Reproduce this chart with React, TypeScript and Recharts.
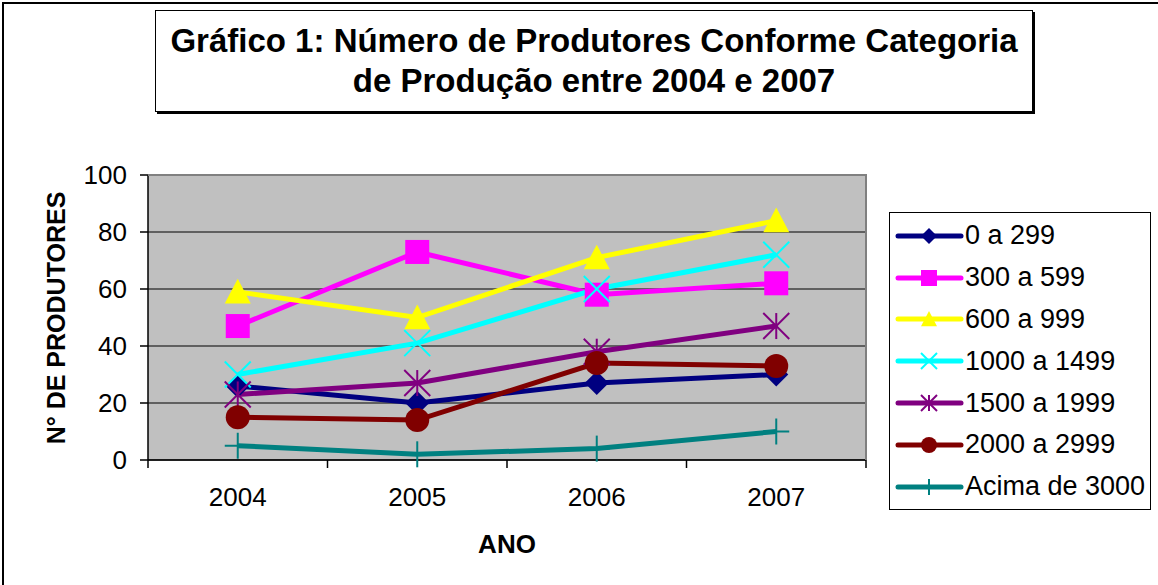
import React from "react";
import {
  CartesianGrid,
  Line,
  LineChart,
  XAxis,
  YAxis,
} from "recharts";

const years = ["2004", "2005", "2006", "2007"];
const cat0a299 = [26, 20, 27, 30];
const cat300a599 = [47, 73, 58, 62];
const cat600a999 = [59, 50, 71, 84];
const cat1000a1499 = [30, 41, 60, 72];
const cat1500a1999 = [23, 27, 38, 47];
const cat2000a2999 = [15, 14, 34, 33];
const catAcima3000 = [5, 2, 4, 10];
const yTicks = [0, 20, 40, 60, 80, 100];

const FONT = "'Liberation Sans', Arial, sans-serif";

type Shape = "diamond" | "square" | "triangle" | "x" | "star" | "circle" | "plus";

const series: { key: string; name: string; values: number[]; color: string; shape: Shape }[] = [
  { key: "s0", name: "0 a 299", values: cat0a299, color: "#000080", shape: "diamond" },
  { key: "s1", name: "300 a 599", values: cat300a599, color: "#FF00FF", shape: "square" },
  { key: "s2", name: "600 a 999", values: cat600a999, color: "#FFFF00", shape: "triangle" },
  { key: "s3", name: "1000 a 1499", values: cat1000a1499, color: "#00FFFF", shape: "x" },
  { key: "s4", name: "1500 a 1999", values: cat1500a1999, color: "#800080", shape: "star" },
  { key: "s5", name: "2000 a 2999", values: cat2000a2999, color: "#800000", shape: "circle" },
  { key: "s6", name: "Acima de 3000", values: catAcima3000, color: "#008080", shape: "plus" },
];

const chartData = years.map((year, i) => {
  const row: Record<string, string | number> = { year };
  series.forEach((s) => {
    row[s.key] = s.values[i];
  });
  return row;
});

// marker drawn around (cx, cy), r is half size
function Marker({ shape, cx, cy, r, color }: { shape: Shape; cx: number; cy: number; r: number; color: string }) {
  switch (shape) {
    case "diamond":
      return (
        <polygon
          points={`${cx},${cy - r} ${cx + r},${cy} ${cx},${cy + r} ${cx - r},${cy}`}
          fill={color}
        />
      );
    case "square":
      return <rect x={cx - r} y={cy - r} width={r * 2} height={r * 2} fill={color} />;
    case "triangle":
      return (
        <polygon
          points={`${cx},${cy - r} ${cx + r},${cy + r * 0.9} ${cx - r},${cy + r * 0.9}`}
          fill={color}
        />
      );
    case "x":
      return (
        <g stroke={color} strokeWidth={2}>
          <line x1={cx - r} y1={cy - r} x2={cx + r} y2={cy + r} />
          <line x1={cx - r} y1={cy + r} x2={cx + r} y2={cy - r} />
        </g>
      );
    case "star":
      return (
        <g stroke={color} strokeWidth={2}>
          <line x1={cx - r} y1={cy - r} x2={cx + r} y2={cy + r} />
          <line x1={cx - r} y1={cy + r} x2={cx + r} y2={cy - r} />
          <line x1={cx} y1={cy - r} x2={cx} y2={cy + r} />
        </g>
      );
    case "circle":
      return <circle cx={cx} cy={cy} r={r} fill={color} />;
    case "plus":
      return (
        <g stroke={color} strokeWidth={2}>
          <line x1={cx} y1={cy - r} x2={cx} y2={cy + r} />
          <line x1={cx - r} y1={cy} x2={cx + r} y2={cy} />
        </g>
      );
  }
  return null;
}

const dotSize: Record<Shape, number> = {
  diamond: 12,
  square: 12,
  triangle: 13,
  x: 13,
  star: 13,
  circle: 12,
  plus: 13,
};

function makeDot(shape: Shape, color: string) {
  return (props: any) => (
    <Marker key={`${shape}-${props.index}`} shape={shape} cx={props.cx} cy={props.cy} r={dotSize[shape]} color={color} />
  );
}

// x tick label with Excel style tick marks between the categories
function YearTick(props: any) {
  const { x, y, payload, index, visibleTicksCount } = props;
  const half = payload?.offset || 89.75;
  const last = index === (visibleTicksCount ?? years.length) - 1;
  return (
    <g>
      <line x1={x - half} y1={y - 8} x2={x - half} y2={y} stroke="#000" strokeWidth={1.5} />
      {last && <line x1={x + half} y1={y - 8} x2={x + half} y2={y} stroke="#000" strokeWidth={1.5} />}
      <text x={x} y={y + 38} textAnchor="middle" fontSize={26} fontFamily={FONT} fill="#000">
        {payload.value}
      </text>
    </g>
  );
}

function LegendBox() {
  return (
    <div
      style={{
        position: "absolute",
        left: 889,
        top: 212,
        width: 262,
        height: 298,
        border: "1.5px solid #000",
        background: "#fff",
        boxSizing: "border-box",
        paddingTop: 2,
      }}
    >
      {series.map((s) => (
        <div key={s.key} style={{ display: "flex", alignItems: "center", height: 41.8 }}>
          <svg width={72} height={30} style={{ marginLeft: 4 }}>
            <line x1={4} y1={15} x2={67} y2={15} stroke={s.color} strokeWidth={5} strokeLinecap="round" />
            <Marker shape={s.shape} cx={35} cy={15} r={8} color={s.color} />
          </svg>
          <span style={{ fontFamily: FONT, fontSize: 27, color: "#000", marginLeft: -1 }}>{s.name}</span>
        </div>
      ))}
    </div>
  );
}

export default function App() {
  return (
    <div
      style={{
        position: "absolute",
        left: 0,
        top: 0,
        width: 1158,
        height: 585,
        overflow: "hidden",
        background: "#fff",
        fontFamily: FONT,
      }}
    >
      <div
        style={{
          position: "absolute",
          left: 2,
          top: 2,
          width: 1200,
          height: 700,
          borderLeft: "2px solid #000",
          borderTop: "2px solid #000",
        }}
      />
      <div
        style={{
          position: "absolute",
          left: 155,
          top: 10,
          width: 878,
          height: 102,
          border: "1px solid #000",
          boxShadow: "2px 2px 0 #000",
          boxSizing: "border-box",
          display: "flex",
          alignItems: "center",
          justifyContent: "center",
          textAlign: "center",
          fontWeight: "bold",
          fontSize: 33,
          lineHeight: "40px",
          color: "#000",
        }}
      >
        Gráfico 1: Número de Produtores Conforme Categoria
        <br />
        de Produção entre 2004 e 2007
      </div>
      <div style={{ position: "absolute", left: 0, top: 0 }}>
        <LineChart
          width={1158}
          height={585}
          data={chartData}
          margin={{ top: 175, right: 292, bottom: 65, left: 88 }}
        >
          <CartesianGrid vertical={false} stroke="#000" strokeWidth={1.2} fill="#C0C0C0" fillOpacity={1} />
          <XAxis
            dataKey="year"
            scale="band"
            height={60}
            axisLine={{ stroke: "#000", strokeWidth: 1.5 }}
            tickLine={false}
            tick={<YearTick />}
            interval={0}
            label={{
              content: () => (
                <text x={507} y={553} textAnchor="middle" fontSize={26} fontWeight="bold" fontFamily={FONT} fill="#000">
                  ANO
                </text>
              ),
            }}
          />
          <YAxis
            width={60}
            domain={[0, 100]}
            ticks={yTicks}
            interval={0}
            axisLine={{ stroke: "#000", strokeWidth: 1.5 }}
            tickLine={{ stroke: "#000", strokeWidth: 1.5 }}
            tickSize={8}
            tickMargin={13}
            tick={{ fontSize: 26, fontFamily: FONT, fill: "#000" }}
            label={{
              content: () => (
                <text
                  x={56}
                  y={318}
                  dy={9}
                  transform="rotate(-90 56 318)"
                  textAnchor="middle"
                  fontSize={25}
                  fontWeight="bold"
                  fontFamily={FONT}
                  fill="#000"
                >
                  N° DE PRODUTORES
                </text>
              ),
            }}
          />
          {series.map((s) => (
            <Line
              key={s.key}
              dataKey={s.key}
              name={s.name}
              type="linear"
              stroke={s.color}
              strokeWidth={5}
              dot={makeDot(s.shape, s.color)}
              activeDot={false}
              isAnimationActive={false}
            />
          ))}
        </LineChart>
      </div>
      <div
        style={{
          position: "absolute",
          left: 148,
          top: 174,
          width: 719,
          height: 286,
          borderTop: "2px solid #808080",
          borderRight: "2px solid #808080",
          boxSizing: "border-box",
          pointerEvents: "none",
        }}
      />
      <LegendBox />
    </div>
  );
}
